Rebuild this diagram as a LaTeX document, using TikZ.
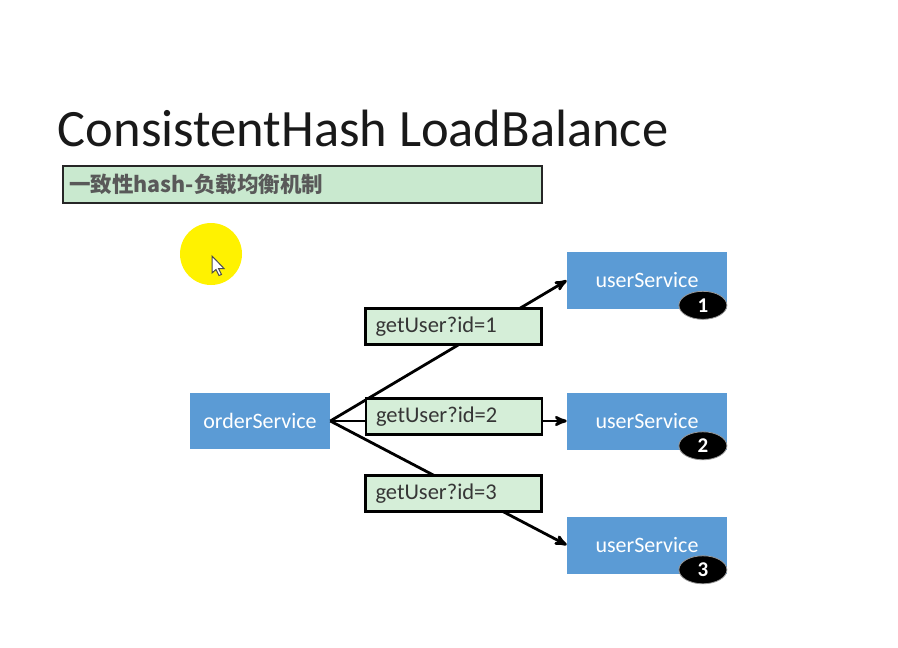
\documentclass[tikz,border=0pt]{standalone}
\usepackage{fontspec}
\setmainfont{Carlito}
\newfontfamily\cjk{Noto Sans CJK SC}
\usetikzlibrary{arrows,shapes.geometric,positioning}
\definecolor{svcblue}{HTML}{5B9BD5}
\definecolor{reqgreen}{HTML}{D5EED8}
\definecolor{subgreen}{HTML}{C9E9CF}
\definecolor{txtgray}{HTML}{363636}

\begin{document}
\begin{tikzpicture}[x=1pt,y=-1pt,>=stealth',semithick]
  \tikzstyle{service}=[rectangle,fill=svcblue,text=white,minimum width=160pt,
                       minimum height=57pt,font=\fontsize{22}{26}\selectfont]
  \tikzstyle{request}=[rectangle,fill=reqgreen,draw=black,line width=2.4pt,text=txtgray,
                       minimum height=36pt,text width=156pt,inner xsep=10pt,align=left,
                       font=\fontsize{22.5}{26}\selectfont]
  \tikzstyle{badge}=[ellipse,fill=black,draw=black!40,line width=0.8pt,text=white,
                     minimum width=48pt,minimum height=28pt,inner sep=0pt,
                     font=\bfseries\fontsize{21}{22}\selectfont]
  \tikzstyle{call}=[->,line width=2.8pt,black]

  \useasboundingbox[fill=white] (0,0) rectangle (898,648);

  % heading
  \node[anchor=base west,inner sep=0pt,font=\fontsize{52.5}{60}\selectfont,text=black!90]
        (title) at (57.5,146) {ConsistentHash LoadBalance};
  \node[anchor=north west,fill=subgreen,draw=black!85,line width=2.4pt,text=black!65,
        minimum height=37pt,text width=467pt,inner xsep=6pt,
        font=\cjk\bfseries\fontsize{21.5}{24}\selectfont]
        (sub) at (62,165) {一致性hash-负载均衡机制};

  % pointer
  \fill[yellow] (211,254) circle (31);
  \draw[fill=white,draw=black!70,line width=1pt,shift={(212,256)}]
        (0,0) -- (0,17) -- (4,13.5) -- (7,19.5) -- (9.5,18.5) -- (6.5,12.5) -- (12,12.5) -- cycle;

  % services
  \node[service,minimum width=140pt,minimum height=56pt] (order) at (260,421) {orderService};
  \node[service] (user1) at (647,280.5) {userService};
  \node[service] (user2) at (647,421)   {userService};
  \node[service] (user3) at (647,545)   {userService};

  \node[badge,anchor=east] (n1) at ([yshift=4pt]user1.south east) {1};
  \node[badge,anchor=east] (n2) at ([yshift=4pt]user2.south east) {2};
  \node[badge,anchor=east] (n3) at ([yshift=4pt]user3.south east) {3};

  % calls
  \draw[call] (order.east) -- (user1.west);
  \draw[call] (order.east) -- (user2.west);
  \draw[call] (order.east) -- (user3.west);

  \node[request] (req1) at (453.5,326.5) {getUser?id=1};
  \node[request] (req2) at (454,416.5)   {getUser?id=2};
  \node[request] (req3) at (453.5,493.5) {getUser?id=3};
\end{tikzpicture}
\end{document}
